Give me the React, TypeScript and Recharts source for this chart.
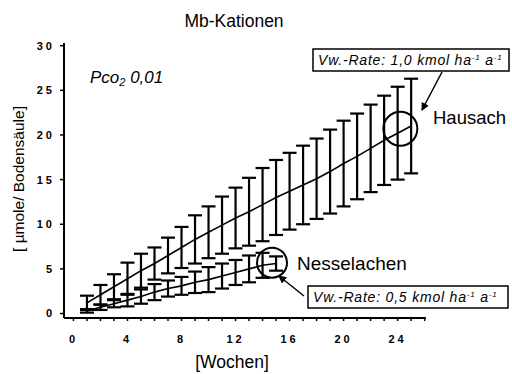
import React from 'react';
import { ComposedChart, Line, XAxis, YAxis, ErrorBar, ReferenceDot } from 'recharts';

const weeks = [1, 2, 3, 4, 5, 6, 7, 8, 9, 10, 11, 12, 13, 14, 15, 16, 17, 18, 19, 20, 21, 22, 23, 24, 25];
const hausachMean = [1.2, 2.1, 3.0, 3.9, 4.8, 5.6, 6.5, 7.4, 8.3, 9.1, 9.9, 10.7, 11.4, 12.2, 13.0, 13.7, 14.4, 15.1, 15.9, 16.8, 17.6, 18.5, 19.4, 20.2, 21.0];
const hausachErr = [0.8, 1.1, 1.4, 1.8, 1.9, 1.8, 2.0, 2.3, 2.7, 2.9, 3.2, 3.4, 3.8, 4.1, 4.2, 4.3, 4.4, 4.5, 4.7, 4.8, 4.8, 4.9, 5.0, 5.2, 5.3];
const nesselMean = [0.3, 0.7, 1.1, 1.5, 1.9, 2.4, 2.8, 3.1, 3.5, 3.8, 4.2, 4.6, 5.0, 5.4, 5.6];
const nesselErr = [0.2, 0.3, 0.4, 0.7, 0.8, 0.9, 0.9, 1.0, 1.2, 1.4, 1.4, 1.4, 1.5, 1.4, 0.8];
const xTicks = [0, 1, 2, 3, 4, 5, 6, 7, 8, 9, 10, 11, 12, 13, 14, 15, 16, 17, 18, 19, 20, 21, 22, 23, 24, 25, 26];
const yTicks = [0, 5, 10, 15, 20, 25, 30];

const data = weeks.map((w, i) => ({
  week: w,
  h: hausachMean[i],
  hErr: hausachErr[i],
  n: nesselMean[i],
  nErr: nesselErr[i],
}));

const FONT = "'Liberation Sans', Arial, sans-serif";
const tickStyle = { fontSize: 11, fontWeight: 'bold', fill: '#000', fontFamily: FONT, letterSpacing: 3 } as any;

export default function App() {
  return (
    <div style={{ position: 'absolute', left: 0, top: 0, width: 512, height: 374, background: '#fff', fontFamily: FONT }}>
      <ComposedChart width={512} height={374} data={data} margin={{ top: 43, right: 86, bottom: 26, left: 24 }}>
        <XAxis
          dataKey="week"
          type="number"
          domain={[-0.7, 26.1]}
          ticks={xTicks}
          interval={0}
          tickFormatter={(v: number) => (v % 4 === 0 && v <= 24 ? String(v) : '')}
          tick={tickStyle}
          tickSize={3}
          tickMargin={14}
          height={30}
          axisLine={{ stroke: '#000', strokeWidth: 2 }}
          tickLine={{ stroke: '#000', strokeWidth: 1.5 }}
          allowDataOverflow
        />
        <XAxis xAxisId="top" orientation="top" type="number" domain={[-0.7, 26.1]} height={0} tick={false} tickLine={false} axisLine={{ stroke: '#000', strokeWidth: 2 }} />
        <YAxis
          type="number"
          domain={[-0.5, 30.3]}
          ticks={yTicks}
          interval={0}
          tick={tickStyle}
          tickSize={4}
          tickMargin={5}
          width={40}
          axisLine={{ stroke: '#000', strokeWidth: 2 }}
          tickLine={{ stroke: '#000', strokeWidth: 1.5 }}
          allowDataOverflow
        />
        <YAxis yAxisId="right" orientation="right" type="number" domain={[-0.5, 30.3]} width={0} tick={false} tickLine={false} axisLine={{ stroke: '#000', strokeWidth: 1.5 }} />
        <Line dataKey="h" stroke="#000" strokeWidth={1.6} dot={false} isAnimationActive={false}>
          <ErrorBar dataKey="hErr" width={7} strokeWidth={2.2} stroke="#000" direction="y" />
        </Line>
        <Line dataKey="n" stroke="#000" strokeWidth={1.6} dot={false} isAnimationActive={false}>
          <ErrorBar dataKey="nErr" width={7} strokeWidth={2.2} stroke="#000" direction="y" />
        </Line>
        <ReferenceDot x={24.2} y={20.7} r={17} fill="none" stroke="#000" strokeWidth={2} />
        <ReferenceDot x={14.7} y={5.7} r={15} fill="none" stroke="#000" strokeWidth={2} />
      </ComposedChart>
      <svg width={512} height={374} style={{ position: 'absolute', left: 0, top: 0, pointerEvents: 'none' }}>
        <defs>
          <marker id="ah" markerWidth="8" markerHeight="8" refX="7" refY="4" orient="auto" markerUnits="userSpaceOnUse">
            <path d="M0,0 L8,4 L0,8 z" fill="#000" />
          </marker>
        </defs>
        <text x={234} y={27} textAnchor="middle" fontSize={17.5} fontFamily={FONT} fill="#000">Mb-Kationen</text>
        <text x={232} y={368} textAnchor="middle" fontSize={17.5} fontFamily={FONT} fill="#000">[Wochen]</text>
        <text transform="translate(24,179) rotate(-90)" textAnchor="middle" fontSize={15.5} fontFamily={FONT} fill="#000">[ µmole/ Bodensäule]</text>
        <text x={90} y={83} fontSize={17} fontStyle="italic" fontFamily={FONT} fill="#000">
          Pco<tspan fontSize={11} dy={3}>2</tspan><tspan dy={-3}> 0,01</tspan>
        </text>
        <rect x={313} y={49} width={196} height={22} fill="#fff" stroke="#000" strokeWidth={1.5} />
        <text x={318} y={65} fontSize={14} letterSpacing={0.8} fontStyle="italic" fontFamily={FONT} fill="#000">
          Vw.-Rate: 1,0 kmol ha<tspan fontSize={8} dy={-5}>-1</tspan><tspan dy={5}> a</tspan><tspan fontSize={8} dy={-5}>-1</tspan>
        </text>
        <line x1={442} y1={72} x2={422} y2={110} stroke="#000" strokeWidth={1.5} markerEnd="url(#ah)" />
        <text x={433} y={124} fontSize={18.5} fontFamily={FONT} fill="#000">Hausach</text>
        <text x={297} y={270} fontSize={19} fontFamily={FONT} fill="#000">Nesselachen</text>
        <rect x={308} y={286} width={200} height={22} fill="#fff" stroke="#000" strokeWidth={1.5} />
        <text x={313} y={302} fontSize={14} letterSpacing={0.8} fontStyle="italic" fontFamily={FONT} fill="#000">
          Vw.-Rate: 0,5 kmol ha<tspan fontSize={8} dy={-5}>-1</tspan><tspan dy={5}> a</tspan><tspan fontSize={8} dy={-5}>-1</tspan>
        </text>
        <line x1={304} y1={296} x2={279} y2={276} stroke="#000" strokeWidth={1.5} markerEnd="url(#ah)" />
      </svg>
    </div>
  );
}
